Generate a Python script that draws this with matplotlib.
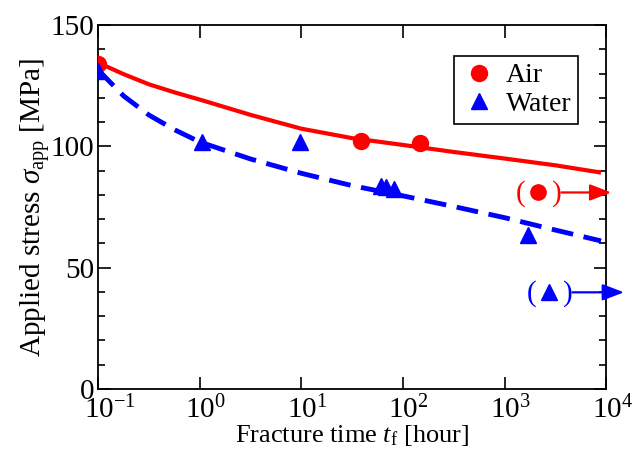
import matplotlib
matplotlib.use("Agg")
import matplotlib.pyplot as plt
import matplotlib.transforms as mtransforms
import numpy as np
from matplotlib.ticker import FixedLocator, MultipleLocator, NullLocator

plt.rcParams["font.family"] = ["Liberation Serif", "DejaVu Serif"]
plt.rcParams["mathtext.fontset"] = "custom"
plt.rcParams["mathtext.rm"] = "Liberation Serif"
plt.rcParams["mathtext.it"] = "Liberation Serif:italic"

# measured data (fracture time in hours, stress in MPa)
air_t = [0.1, 38.7, 147.5]
air_s = [134.0, 102.3, 101.2]
water_t = [0.1, 1.06, 9.6, 61.0, 68.0, 81.0, 1700.0]
water_s = [131.0, 102.0, 102.0, 83.6, 83.3, 82.6, 63.5]

# run-out (unbroken) specimens
air_runout_t, air_runout_s = 2130.0, 81.0
water_runout_t, water_runout_s = 2730.0, 39.8

# fitted curves
fit_logt = [-1.0, -0.75, -0.5, -0.25, 0.0, 0.5, 1.0, 1.5, 2.0, 2.5, 3.0, 3.5, 3.95]
air_fit = [134.5, 129.8, 125.6, 122.3, 119.3, 113.0, 107.3, 103.4, 100.6, 97.7, 95.0, 92.2, 89.2]
water_fit = [131.5, 120.8, 112.9, 106.9, 101.8, 94.8, 88.9, 83.8, 79.6, 75.2, 70.6, 65.5, 61.0]

decades = [-1, 0, 1, 2, 3, 4]

fig = plt.figure(figsize=(6.34, 4.5), dpi=100)
ax = fig.add_axes([0.155, 0.136, 0.801, 0.808])

t_fit = 10 ** np.array(fit_logt)
ax.plot(t_fit, air_fit, color="red", lw=3, solid_capstyle="butt", zorder=2)
ax.plot(t_fit, water_fit, color="blue", lw=3.5, ls=(0, (4.5, 2.2)), zorder=2)

ax.plot(air_t, air_s, "o", color="red", ms=11.5, ls="none", label="Air", zorder=3)
ax.plot(water_t, water_s, "^", color="blue", ms=12, ls="none", label="Water", zorder=3)

# run-out markers in parentheses with arrows pointing off the time axis
for t, s, mk, col, tip in [(air_runout_t, air_runout_s, "o", "red", 1.01),
                            (water_runout_t, water_runout_s, "^", "blue", 1.035)]:
    ax.plot([t], [s], mk, color=col, ms=11 if mk == "o" else 12, zorder=3, clip_on=False)
    ax.annotate("(", xy=(t, s), xytext=(-12.5, -1), textcoords="offset points",
                ha="center", va="center", color=col, fontsize=21)
    ax.annotate(")", xy=(t, s), xytext=(13.5, -1), textcoords="offset points",
                ha="center", va="center", color=col, fontsize=21)
    ax.annotate("", xy=(tip, s), xycoords=("axes fraction", "data"),
                xytext=(t, s), textcoords="data", annotation_clip=False,
                arrowprops=dict(arrowstyle="-|>,head_length=1.3,head_width=0.5",
                                color=col, lw=1.6, shrinkA=17, shrinkB=0))

ax.set_xscale("log")
ax.set_xlim(0.1, 1e4)
ax.set_ylim(0, 150)
ax.xaxis.set_major_locator(FixedLocator([10.0 ** d for d in decades]))
ax.xaxis.set_minor_locator(NullLocator())
ax.set_xticklabels([r"10$^{%d}$" % d for d in decades])
ax.yaxis.set_major_locator(MultipleLocator(50))
ax.yaxis.set_minor_locator(MultipleLocator(10))
ax.tick_params(which="both", direction="in", top=True, right=True, labelsize=21)
ax.tick_params(axis="x", pad=5)
ax.tick_params(axis="y", pad=3)
ax.tick_params(which="major", length=9, width=1.2)
ax.tick_params(which="minor", length=5, width=1.2)
for sp in ax.spines.values():
    sp.set_linewidth(1.3)

# keep the "10" centred on the tick, exponent hanging to the right
shift = mtransforms.ScaledTranslation(-10.5 / 72, 0, fig.dpi_scale_trans)
for lbl in ax.get_xticklabels():
    lbl.set_horizontalalignment("left")
    lbl.set_transform(lbl.get_transform() + shift)

ax.set_xlabel(r"Fracture time $t_\mathrm{f}$ [hour]", fontsize=19, labelpad=-1)
ax.set_ylabel(r"Applied stress $\sigma_\mathrm{app}$ [MPa]", fontsize=21, labelpad=-1)

leg = ax.legend(loc="upper right", bbox_to_anchor=(0.945, 0.915), borderaxespad=0,
                fontsize=20, fancybox=False, edgecolor="black", framealpha=1,
                handletextpad=0.3, borderpad=0.25, labelspacing=0.1, handlelength=1.3)
leg.get_frame().set_linewidth(1.2)

fig.savefig("out.png", dpi=100)
